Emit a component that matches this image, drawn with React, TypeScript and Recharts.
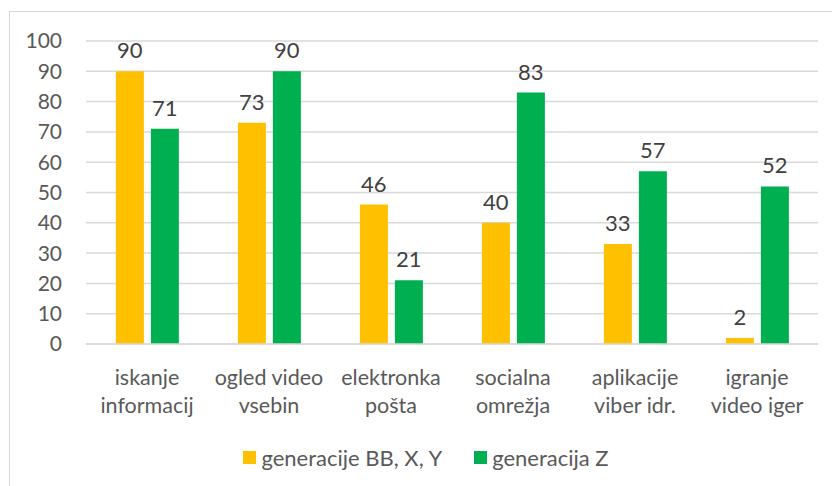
import { BarChart, Bar, XAxis, YAxis, CartesianGrid, Legend, LabelList } from 'recharts';

const categories = [
  ['iskanje', 'informacij'],
  ['ogled video', 'vsebin'],
  ['elektronka', 'pošta'],
  ['socialna', 'omrežja'],
  ['aplikacije', 'viber idr.'],
  ['igranje', 'video iger'],
];
const genBBXY = [90, 73, 46, 40, 33, 2];
const genZ = [71, 90, 21, 83, 57, 52];
const yTicks = [0, 10, 20, 30, 40, 50, 60, 70, 80, 90, 100];
const series = [
  { key: 'bbxy', name: 'generacije BB, X, Y', color: '#FFC000' },
  { key: 'z', name: 'generacija Z', color: '#00B050' },
];

const data = categories.map((c, i) => ({
  name: c.join('\n'),
  bbxy: genBBXY[i],
  z: genZ[i],
}));

const FONT = 'Lato, "Open Sans", sans-serif';

const CategoryTick = (props: any) => {
  const { x, y, payload } = props;
  const lines = String(payload.value).split('\n');
  return (
    <text x={x} y={y} textAnchor="middle" fill="#595959" fontSize={21.5} fontFamily={FONT}>
      {lines.map((l, i) => (
        <tspan key={i} x={x} dy={i === 0 ? 33 : 28}>{l}</tspan>
      ))}
    </text>
  );
};

const LegendContent = () => (
  <div style={{ display: 'flex', justifyContent: 'center', gap: 32, fontFamily: FONT, fontSize: 22, color: '#595959', paddingLeft: 34 }}>
    {series.map((s) => (
      <div key={s.key} style={{ display: 'flex', alignItems: 'center' }}>
        <span style={{ display: 'inline-block', width: 13, height: 13, background: s.color, marginRight: 5 }} />
        <span>{s.name}</span>
      </div>
    ))}
  </div>
);

export default function App() {
  return (
    <div style={{ position: 'absolute', left: 0, top: 0, width: 832, height: 486, background: '#fff', overflow: 'hidden' }}>
      <div style={{ position: 'absolute', left: 9, top: 11, width: 900, height: 600, border: '1.5px solid #D9D9D9' }} />
      <BarChart
        width={832}
        height={486}
        data={data}
        margin={{ top: 41, right: 14, bottom: 0, left: 0 }}
        barCategoryGap="24.5%"
        barGap={7}
        style={{ position: 'absolute', left: 0, top: 0 }}
      >
        <CartesianGrid vertical={false} stroke="#D9D9D9" strokeWidth={1.5} />
        <XAxis
          dataKey="name"
          height={100}
          axisLine={{ stroke: '#D9D9D9', strokeWidth: 1.5 }}
          tickLine={false}
          tick={<CategoryTick />}
          interval={0}
        />
        <YAxis
          width={86}
          domain={[0, 100]}
          ticks={yTicks}
          axisLine={false}
          tickLine={false}
          tick={{ fill: '#595959', fontSize: 21, fontFamily: FONT }}
          tickMargin={18}
        />
        <Legend verticalAlign="bottom" height={42} content={<LegendContent />} />
        {series.map((s) => (
          <Bar key={s.key} dataKey={s.key} name={s.name} fill={s.color} isAnimationActive={false}>
            <LabelList dataKey={s.key} position="top" offset={13} fill="#404040" fontSize={22} fontFamily={FONT} />
          </Bar>
        ))}
      </BarChart>
    </div>
  );
}
